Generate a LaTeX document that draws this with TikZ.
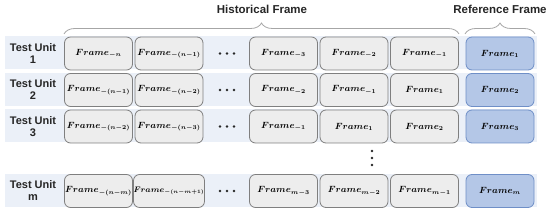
\documentclass[tikz,border=0pt]{standalone}
\usepackage[no-math]{fontspec}
\setmainfont{Liberation Sans}
\usepackage{amsmath}
\usepackage{bm}
\usetikzlibrary{decorations.pathreplacing}
\DeclareMathSizes{9.5}{9.5}{6}{5}
\DeclareMathSizes{8.5}{8.5}{5.3}{4.5}
\definecolor{bandblue}{HTML}{EBF0F8}
\definecolor{boxgray}{HTML}{EDEDED}
\definecolor{boxborder}{HTML}{7F7F7F}
\definecolor{refblue}{HTML}{B4C7E7}
\definecolor{refborder}{HTML}{6F8FC7}
\definecolor{bracegray}{HTML}{A6A6A6}
\definecolor{headtext}{HTML}{262626}
\newcommand{\frm}[1]{$\bm{Frame_{#1}}$}
\tikzset{
  gbox/.style={draw=boxborder, fill=boxgray, rounded corners=6pt, minimum width=68pt, minimum height=33pt, line width=0.8pt, inner sep=0pt, font=\fontsize{9.5}{11}\selectfont},
  rbox/.style={gbox, fill=refblue, draw=refborder},
  unitlbl/.style={align=center, font=\fontsize{11}{12}\selectfont\bfseries, text=headtext},
  headlbl/.style={font=\fontsize{11.5}{13}\selectfont\bfseries, text=headtext},
  bracepath/.style={draw=bracegray, line width=0.8pt, decorate, decoration={brace, amplitude=11pt}},
  dotmark/.style={fill=headtext}
}
\begin{document}
\begin{tikzpicture}[x=1pt,y=-1pt]
\useasboundingbox (0,0) rectangle (550,213);
% bands
\foreach \yy in {53.5,90,126.5,191}{
  \fill[bandblue] (5,\yy-17) rectangle (537,\yy+16);
}
% headings and braces
\node[headlbl] (hist) at (262,9) {Historical Frame};
\node[headlbl] (reft) at (500,9) {Reference Frame};
\coordinate (hb1) at (64,34);
\coordinate (hb2) at (459,34);
\coordinate (rb1) at (465,34);
\coordinate (rb2) at (535,34);
\draw[bracepath] (hb1) -- (hb2);
\draw[bracepath] (rb1) -- (rb2);
% row 1
\node[unitlbl] (u1) at (33,53.5) {Test Unit\\1};
\node[gbox] (a1) at (98.5,53.5) {\frm{-n}};
\node[gbox] (b1) at (169,53.5) {\frm{-(n-1)}};
\node[gbox] (c1) at (283.5,53.5) {\frm{-3}};
\node[gbox] (d1) at (354,53.5) {\frm{-2}};
\node[gbox] (e1) at (424.5,53.5) {\frm{-1}};
\node[rbox] (r1) at (500,53.5) {\frm{1}};
% row 2
\node[unitlbl] (u2) at (33,90) {Test Unit\\2};
\node[gbox] (a2) at (98.5,90) {\frm{-(n-1)}};
\node[gbox] (b2) at (169,90) {\frm{-(n-2)}};
\node[gbox] (c2) at (283.5,90) {\frm{-2}};
\node[gbox] (d2) at (354,90) {\frm{-1}};
\node[gbox] (e2) at (424.5,90) {\frm{1}};
\node[rbox] (r2) at (500,90) {\frm{2}};
% row 3
\node[unitlbl] (u3) at (33,126.5) {Test Unit\\3};
\node[gbox] (a3) at (98.5,126.5) {\frm{-(n-2)}};
\node[gbox] (b3) at (169,126.5) {\frm{-(n-3)}};
\node[gbox] (c3) at (283.5,126.5) {\frm{-1}};
\node[gbox] (d3) at (354,126.5) {\frm{1}};
\node[gbox] (e3) at (424.5,126.5) {\frm{2}};
\node[rbox] (r3) at (500,126.5) {\frm{3}};
% row m
\node[unitlbl] (u4) at (33,191) {Test Unit\\m};
\node[gbox] (a4) at (98.5,191) {\frm{-(n-m)}};
\node[gbox, font=\fontsize{8.5}{10}\selectfont] (b4) at (169,191) {\frm{-(n-m+1)}};
\node[gbox] (c4) at (283.5,191) {\frm{m-3}};
\node[gbox] (d4) at (354,191) {\frm{m-2}};
\node[gbox] (e4) at (424.5,191) {\frm{m-1}};
\node[rbox] (r4) at (500,191) {\frm{m}};
% horizontal dots
\foreach \yy in {53.5,90,126.5,191}{
  \foreach \xx in {220,227,234}{
    \fill[dotmark] (\xx,\yy) circle (1.4pt);
  }
}
% vertical dots
\foreach \yy in {151,158,165}{
  \fill[dotmark] (372,\yy) circle (1.4pt);
}
\end{tikzpicture}
\end{document}
